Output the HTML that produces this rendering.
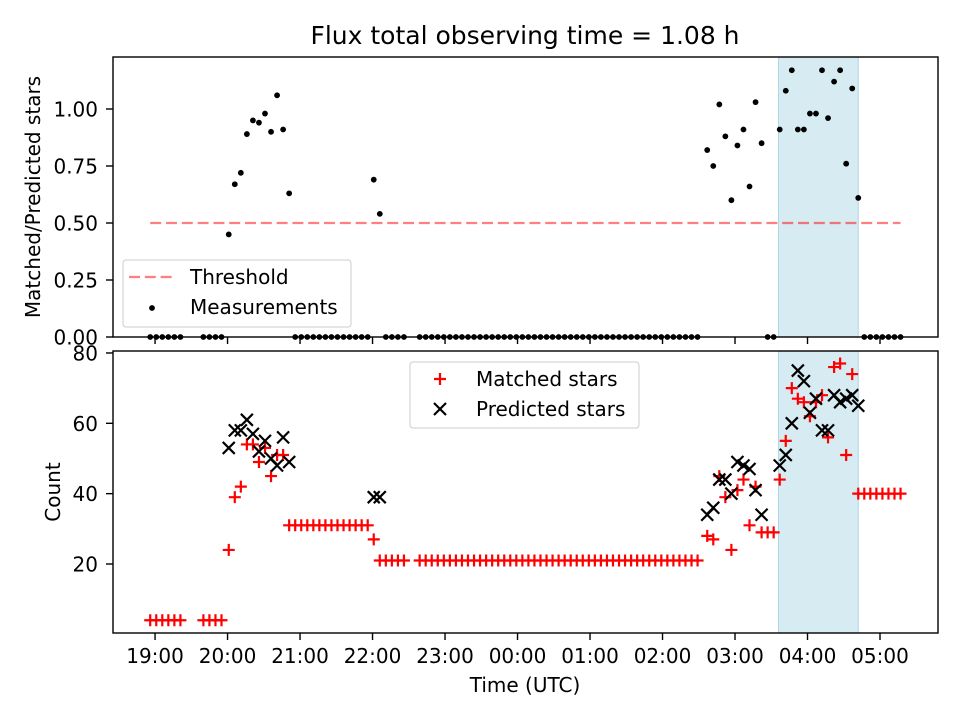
<!DOCTYPE html>
<html><head><meta charset="utf-8"><style>
body{margin:0;background:#fff}
svg{display:block;font-family:"DejaVu Sans","Liberation Sans",sans-serif}
</style></head><body>
<svg id="chart" width="960" height="720" viewBox="0 0 960 720" xmlns="http://www.w3.org/2000/svg">
<rect width="960" height="720" fill="#fff"/>
<text x="525" y="44" font-size="25" text-anchor="middle">Flux total observing time = 1.08 h</text>
<g id="topPanel"></g>
<g id="botPanel"></g>
<text transform="translate(40,197) rotate(-90)" font-size="20" text-anchor="middle">Matched/Predicted stars</text>
<text transform="translate(60,492) rotate(-90)" font-size="20" text-anchor="middle">Count</text>
<text x="525" y="692" font-size="20" text-anchor="middle">Time (UTC)</text>
</svg>
<script>
// minutes since 19:00 UTC
const times = [-4,1,6,11,16,21, 40,45,50,55,
 61,66,71,76,81,86,91,96,101,106,111,
 116,121,126,131,136,141,146,151,156,161,166,171,176,
 181,186, 191,196,201,206,
 219,224,229,234,239,244,249,254,259,264,269,274,279,284,289,294,299,304,309,314,319,324,329,334,339,344,349,354,359,364,369,374,379,384,389,394,399,404,409,414,419,424,429,434,439,444,449,
 457,462,467,472,477,482,487,492,497,502,507,512,517,522,527,532,537,542,547,552,557,562,567,572,577,582,587,592,597,602,607,612,617];
const matched = [4,4,4,4,4,4, 4,4,4,4,
 24,39,42,54,54,49,53,45,51,51,31,
 31,31,31,31,31,31,31,31,31,31,31,31,31,
 27,21, 21,21,21,21,
 21,21,21,21,21,21,21,21,21,21,21,21,21,21,21,21,21,21,21,21,21,21,21,21,21,21,21,21,21,21,21,21,21,21,21,21,21,21,21,21,21,21,21,21,21,21,21,
 28,27,45,39,24,41,44,31,42,29,29,29,44,55,70,67,66,62,66,68,56,76,77,51,74,40,40,40,40,40,40,40,40];
const N = null;
const predicted = [N,N,N,N,N,N, N,N,N,N,
 53,58,58,61,57,52,55,50,48,56,49,
 N,N,N,N,N,N,N,N,N,N,N,N,N,
 39,39, N,N,N,N,
 N,N,N,N,N,N,N,N,N,N,N,N,N,N,N,N,N,N,N,N,N,N,N,N,N,N,N,N,N,N,N,N,N,N,N,N,N,N,N,N,N,N,N,N,N,N,N,
 34,36,44,44,40,49,48,47,41,34,N,N,48,51,60,75,72,63,67,58,58,68,66,67,68,65,N,N,N,N,N,N,N];
const ratio = [0,0,0,0,0,0, 0,0,0,0,
 0.45,0.67,0.72,0.89,0.95,0.94,0.98,0.90,1.06,0.91,0.63,
 0,0,0,0,0,0,0,0,0,0,0,0,0,
 0.69,0.54, 0,0,0,0,
 0,0,0,0,0,0,0,0,0,0,0,0,0,0,0,0,0,0,0,0,0,0,0,0,0,0,0,0,0,0,0,0,0,0,0,0,0,0,0,0,0,0,0,0,0,0,0,
 0.82,0.75,1.02,0.88,0.60,0.84,0.91,0.66,1.03,0.85,0,0,0.91,1.08,1.17,0.91,0.91,0.98,0.98,1.17,0.96,1.12,1.17,0.76,1.09,0.61,0,0,0,0,0,0,0];
const threshold = 0.5;
const thresholdRange = [-4, 617];
const shadeRange = [516, 582];
const xTickMinutes = [0,60,120,180,240,300,360,420,480,540,600];
const xTickLabels = ["19:00","20:00","21:00","22:00","23:00","00:00","01:00","02:00","03:00","04:00","05:00"];
const topTicks = [0,0.25,0.5,0.75,1.0];
const topTickLabels = ["0.00","0.25","0.50","0.75","1.00"];
const botTicks = [20,40,60,80];
const botTickLabels = ["20","40","60","80"];

const NS="http://www.w3.org/2000/svg";
const L=113,R=938, T1=57,B1=337, T2=351,B2=633;
const xmin=-34.8,xmax=648;
const X=m=>L+(m-xmin)/(xmax-xmin)*(R-L);
const Y1=v=>B1-(v-0)/(1.228-0)*(B1-T1);
const Y2=v=>B2-(v-0.38)/(80.56-0.38)*(B2-T2);
function mk(p,tag,a){const e=document.createElementNS(NS,tag);for(const k in a)e.setAttribute(k,a[k]);p.appendChild(e);return e;}
const topG=document.getElementById('topPanel'), botG=document.getElementById('botPanel');
const DASH='11,4.8';

let s=mk(topG,'rect',{x:X(shadeRange[0]),y:T1,width:X(shadeRange[1])-X(shadeRange[0]),height:B1-T1,fill:'#add8e6','fill-opacity':0.5,stroke:'#add8e6'});


s=mk(botG,'rect',{x:X(shadeRange[0]),y:T2,width:X(shadeRange[1])-X(shadeRange[0]),height:B2-T2,fill:'#add8e6','fill-opacity':0.5,stroke:'#add8e6'});



let th=mk(topG,'line',{x1:X(thresholdRange[0]),x2:X(thresholdRange[1]),y1:Y1(threshold),y2:Y1(threshold),stroke:'#ff0000','stroke-opacity':0.5,'stroke-width':2.2,'stroke-dasharray':DASH});



times.forEach((t,i)=>{
  const c=mk(topG,'circle',{cx:X(t),cy:Y1(ratio[i]),r:2.9,fill:'#000'});
  
  
});
times.forEach((t,i)=>{
  const x=X(t),y=Y2(matched[i]);
  const g=mk(botG,'path',{d:`M${x-6},${y}H${x+6}M${x},${y-6}V${y+6}`,stroke:'#ff0000','stroke-width':2.2});
  
  
});
times.forEach((t,i)=>{
  if(predicted[i]===null)return;
  const x=X(t),y=Y2(predicted[i]);
  const g=mk(botG,'path',{d:`M${x-6},${y-6}L${x+6},${y+6}M${x-6},${y+6}L${x+6},${y-6}`,stroke:'#000','stroke-width':2.2});
  
  
});

let f=mk(topG,'rect',{x:L,y:T1,width:R-L,height:B1-T1,fill:'none',stroke:'#000','stroke-width':1.4});


f=mk(botG,'rect',{x:L,y:T2,width:R-L,height:B2-T2,fill:'none',stroke:'#000','stroke-width':1.4});



xTickMinutes.forEach((m,i)=>{
  const x=X(m);
  let t=mk(topG,'line',{x1:x,x2:x,y1:B1,y2:B1+7,stroke:'#000','stroke-width':1.4});
  
  
  t=mk(botG,'line',{x1:x,x2:x,y1:B2,y2:B2+7,stroke:'#000','stroke-width':1.4});
  
  
  const lb=mk(botG,'text',{x:x,y:663,'font-size':20,'text-anchor':'middle'});
  lb.textContent=xTickLabels[i];
  
  
});
topTicks.forEach((v,i)=>{
  const y=Y1(v);
  const t=mk(topG,'line',{x1:L-7,x2:L,y1:y,y2:y,stroke:'#000','stroke-width':1.4});
  
  
  const lb=mk(topG,'text',{x:L-15,y:y+7.5,'font-size':20,'text-anchor':'end'});
  lb.textContent=topTickLabels[i];
  
  
});
botTicks.forEach((v,i)=>{
  const y=Y2(v);
  const t=mk(botG,'line',{x1:L-7,x2:L,y1:y,y2:y,stroke:'#000','stroke-width':1.4});
  
  
  const lb=mk(botG,'text',{x:L-15,y:y+7.5,'font-size':20,'text-anchor':'end'});
  lb.textContent=botTickLabels[i];
  
  
});

let lg=mk(topG,'g',{});


mk(lg,'rect',{x:123,y:260,width:228,height:67,rx:3,fill:'#fff','fill-opacity':0.8,stroke:'#ccc'});
mk(lg,'line',{x1:129,x2:173,y1:277,y2:277,stroke:'#ff0000','stroke-opacity':0.5,'stroke-width':2.2,'stroke-dasharray':DASH});
let tx=mk(lg,'text',{x:190,y:284,'font-size':20});tx.textContent='Threshold';


mk(lg,'circle',{cx:152,cy:308,r:2.9,fill:'#000'});
tx=mk(lg,'text',{x:190,y:314,'font-size':20});tx.textContent='Measurements';



lg=mk(botG,'g',{});


mk(lg,'rect',{x:410,y:362,width:229,height:66,rx:3,fill:'#fff','fill-opacity':0.8,stroke:'#ccc'});
mk(lg,'path',{d:'M434,379H446M440,373V385',stroke:'#ff0000','stroke-width':2.2});
tx=mk(lg,'text',{x:476,y:386,'font-size':20});tx.textContent='Matched stars';


mk(lg,'path',{d:'M434,403L446,415M434,415L446,403',stroke:'#000','stroke-width':2.2});
tx=mk(lg,'text',{x:476,y:416,'font-size':20});tx.textContent='Predicted stars';


</script>
</body></html>
